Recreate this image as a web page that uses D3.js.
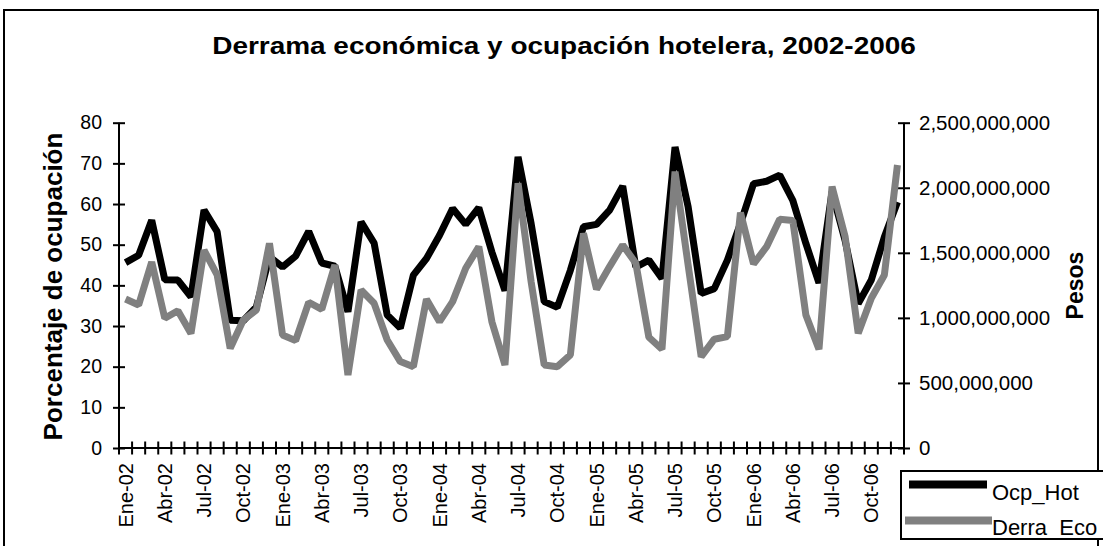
<!DOCTYPE html>
<html>
<head>
<meta charset="utf-8">
<script src="https://cdn.jsdelivr.net/npm/d3@7"></script>
<style>
html,body{margin:0;padding:0;background:#fff;}
svg{display:block;font-family:"Liberation Sans",Arial,sans-serif;}
</style>
</head>
<body>
<svg id="chart" width="1103" height="546"></svg>
<script>
// ---- Data ----
const years = ["02","03","04","05","06"];
const monthNames = ["Ene","Feb","Mar","Abr","May","Jun","Jul","Ago","Sep","Oct","Nov","Dic"];
const categories = [];
years.forEach(y => monthNames.forEach(m => categories.push(m + "-" + y)));

const tickLabels = ["Ene-02","Abr-02","Jul-02","Oct-02","Ene-03","Abr-03","Jul-03","Oct-03",
  "Ene-04","Abr-04","Jul-04","Oct-04","Ene-05","Abr-05","Jul-05","Oct-05",
  "Ene-06","Abr-06","Jul-06","Oct-06"];

// Ocupación hotelera (%)
const ocpHot = [45.6, 47.4, 56.0, 41.4, 41.3, 37.2, 58.5, 53.2, 31.4, 31.3, 34.7, 47.0,
  44.5, 47.2, 53.3, 45.5, 44.7, 33.5, 55.6, 50.4, 32.7, 29.5, 42.5, 46.6,
  52.3, 58.9, 55.0, 59.1, 48.2, 38.7, 71.6, 55.2, 36.0, 34.6, 43.7, 54.4,
  55.0, 58.5, 64.4, 44.5, 46.2, 41.7, 74.0, 59.3, 38.0, 39.2, 46.2, 55.2,
  65.0, 65.6, 67.1, 60.9, 50.3, 40.6, 63.0, 51.0, 35.5, 41.3, 51.9, 60.5];

// Derrama económica (pesos)
const derraEco = [1145000000, 1099000000, 1430000000, 997000000, 1055000000, 880000000, 1520000000, 1330000000, 766000000, 984000000, 1060000000, 1573000000,
  869000000, 825000000, 1120000000, 1066000000, 1407000000, 561000000, 1214000000, 1112000000, 830000000, 664000000, 625000000, 1143000000,
  971000000, 1125000000, 1381000000, 1547000000, 971000000, 638000000, 2035000000, 1278000000, 638000000, 625000000, 715000000, 1650000000,
  1220000000, 1394000000, 1560000000, 1420000000, 851000000, 759000000, 2124000000, 1407000000, 702000000, 836000000, 856000000, 1809000000,
  1414000000, 1547000000, 1758000000, 1748000000, 1022000000, 759000000, 2009000000, 1624000000, 882000000, 1151000000, 1330000000, 2175000000];

const leftTicks = [0,10,20,30,40,50,60,70,80];
const rightTicks = [0,500000000,1000000000,1500000000,2000000000,2500000000];

const titleText = "Derrama económica y ocupación hotelera, 2002-2006";
const yLeftTitle = "Porcentaje de ocupación";
const yRightTitle = "Pesos";
const seriesNames = ["Ocp_Hot","Derra_Eco"];

// ---- Layout ----
const svg = d3.select("#chart");
const plot = {left:119, right:904, top:122.7, bottom:448};

// outer chart border
svg.append("rect").attr("x",4).attr("y",10).attr("width",1094).attr("height",560)
  .attr("fill","#fff").attr("stroke","#000").attr("stroke-width",2);

const x = d3.scaleBand().domain(categories).range([plot.left, plot.right]).padding(0);
const yL = d3.scaleLinear().domain([0,80]).range([plot.bottom, plot.top]);
const yR = d3.scaleLinear().domain([0,2500000000]).range([plot.bottom, plot.top]);

const fmt = d3.format(",");

// Left axis
const gL = svg.append("g").attr("transform",`translate(${plot.left},0)`)
  .call(d3.axisLeft(yL).tickValues(leftTicks).tickSize(6).tickPadding(11));
gL.select(".domain").remove();
gL.selectAll(".tick line").attr("x1",-6).attr("x2",6).attr("stroke","#000").attr("stroke-width",2);
gL.selectAll(".tick text").attr("font-size","19.5px").attr("font-family","Liberation Sans, Arial").attr("fill","#000");
svg.append("line").attr("x1",plot.left).attr("x2",plot.left).attr("y1",plot.top).attr("y2",plot.bottom)
  .attr("stroke","#000").attr("stroke-width",2);

// Right axis
const gR = svg.append("g").attr("transform",`translate(${plot.right},0)`)
  .call(d3.axisRight(yR).tickValues(rightTicks).tickSize(6).tickPadding(9).tickFormat(fmt));
gR.select(".domain").remove();
gR.selectAll(".tick line").attr("x1",-6).attr("x2",6).attr("stroke","#000").attr("stroke-width",2);
gR.selectAll(".tick text").attr("font-size","20.5px").attr("font-family","Liberation Sans, Arial").attr("fill","#000");
svg.append("line").attr("x1",plot.right).attr("x2",plot.right).attr("y1",plot.top).attr("y2",plot.bottom)
  .attr("stroke","#000").attr("stroke-width",2);

// Bottom axis: tick marks at category boundaries
const boundaries = categories.map(c => x(c)).concat([x(categories[categories.length-1]) + x.bandwidth()]);
svg.append("g").selectAll("line").data(boundaries).join("line")
  .attr("x1",d=>d).attr("x2",d=>d).attr("y1",plot.bottom-6.5).attr("y2",plot.bottom+6.5)
  .attr("stroke","#000").attr("stroke-width",2);
svg.append("line").attr("x1",plot.left).attr("x2",plot.right).attr("y1",plot.bottom).attr("y2",plot.bottom)
  .attr("stroke","#000").attr("stroke-width",2);

// x tick labels
svg.append("g").selectAll("text").data(tickLabels).join("text")
  .attr("transform",d=>`translate(${x(d)+x.bandwidth()/2},${plot.bottom+15}) rotate(-90)`)
  .attr("text-anchor","end").attr("dy","0.35em")
  .attr("font-size","20px").attr("fill","#000").text(d=>d);

// Lines
const lineL = d3.line().x((d,i)=>x(categories[i])+x.bandwidth()/2).y(d=>yL(d));
const lineR = d3.line().x((d,i)=>x(categories[i])+x.bandwidth()/2).y(d=>yR(d));
svg.append("path").datum(ocpHot).attr("d",lineL).attr("fill","none")
  .attr("stroke","#000").attr("stroke-width",7).attr("stroke-linejoin","bevel");
svg.append("path").datum(derraEco).attr("d",lineR).attr("fill","none")
  .attr("stroke","#808080").attr("stroke-width",7).attr("stroke-linejoin","bevel");

// Title (horizontally stretched to match reference width)
const tG = svg.append("g");
const tT = tG.append("text").attr("x",0).attr("y",0).attr("text-anchor","middle")
  .attr("font-size","23.5px").attr("font-weight","bold").text(titleText);
const natW = tT.node().getComputedTextLength();
const sx = 704 / natW;
tG.attr("transform",`translate(564,54) scale(${sx},1)`);

// Axis titles
svg.append("text").attr("transform","translate(62,286.5) rotate(-90)").attr("text-anchor","middle")
  .attr("font-size","26px").attr("font-weight","bold").text(yLeftTitle);
svg.append("text").attr("transform","translate(1083,285.5) rotate(-90)").attr("text-anchor","middle")
  .attr("font-size","23px").attr("font-weight","bold").text(yRightTitle);

// Legend
const lg = svg.append("g");
lg.append("rect").attr("x",901).attr("y",471).attr("width",230).attr("height",68)
  .attr("fill","#fff").attr("stroke","#000").attr("stroke-width",2);
const legendItems = [
  {name:seriesNames[0], color:"#000", x1:909, x2:987, y:484.5, ty:499.5},
  {name:seriesNames[1], color:"#808080", x1:905, x2:992, y:520.5, ty:534.5}
];
legendItems.forEach(it=>{
  lg.append("line").attr("x1",it.x1).attr("x2",it.x2).attr("y1",it.y).attr("y2",it.y)
    .attr("stroke",it.color).attr("stroke-width",8);
  lg.append("text").attr("x",992).attr("y",it.ty).attr("font-size","22px").attr("fill","#000").text(it.name);
});
</script>
</body>
</html>
